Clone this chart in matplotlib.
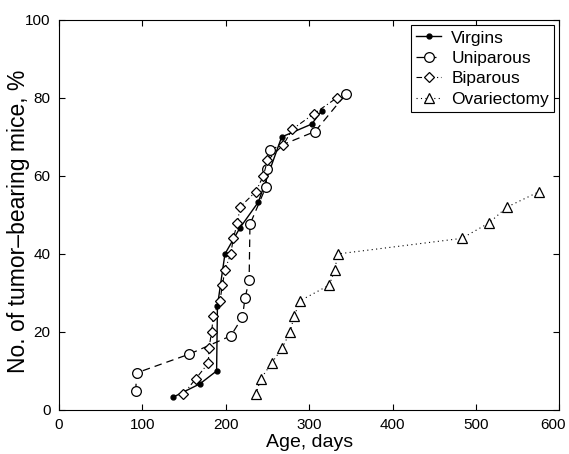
import matplotlib
matplotlib.use("Agg")
import matplotlib.pyplot as plt
import matplotlib.transforms as mtransforms

plt.rcParams['font.family'] = ['Liberation Sans', 'DejaVu Sans']

# ages (days) and cumulative tumour incidence (%)
virgins_age = [137, 169, 189, 190, 199, 217, 239, 267, 303, 315]
virgins_pct = [3.3, 6.7, 10.0, 26.7, 40.0, 46.7, 53.3, 70.0, 73.3, 76.7]

unip_age = [92, 93, 156, 206, 220, 223, 228, 229, 248, 250, 253, 307, 344]
unip_pct = [4.8, 9.5, 14.3, 19.0, 23.8, 28.6, 33.3, 47.6, 57.1, 61.9, 66.7, 71.4, 81.0]

bip_age = [149, 164, 179, 180, 183, 185, 193, 196, 199, 206, 209, 214, 217,
           236, 245, 250, 269, 280, 306, 333]
bip_pct = [4, 8, 12, 16, 20, 24, 28, 32, 36, 40, 44, 48, 52,
           56, 60, 64, 68, 72, 76, 80]

ovx_age = [236, 242, 255, 268, 277, 282, 289, 324, 331, 334, 483, 516, 537, 576]
ovx_pct = [4, 8, 12, 16, 20, 24, 28, 32, 36, 40, 44, 48, 52, 56]

fig = plt.figure(figsize=(5.69, 4.54), dpi=100)
ax = fig.add_axes([0.1037, 0.097, 0.8793, 0.859])

ax.plot(virgins_age, virgins_pct, 'k-', marker='o', ms=3.5, lw=1.0, label='Virgins')
ax.plot(unip_age, unip_pct, color='k', ls=(0, (6, 4)), marker='o', ms=7, mfc='white',
        mew=0.9, lw=0.9, label='Uniparous')
ax.plot(bip_age, bip_pct, color='k', ls=(0, (5, 2.5, 1, 2.5)), marker='D', ms=5.5, mfc='white',
        mew=0.9, lw=0.8, label='Biparous')
ax.plot(ovx_age, ovx_pct, color='k', ls=(0, (1, 3)), marker='^', ms=7, mfc='white',
        mew=0.9, lw=0.8, label='Ovariectomy')

ax.set_xlim(0, 600)
ax.set_ylim(0, 100)
ax.set_xticks(range(0, 601, 100))
ax.set_yticks(range(0, 101, 20))
ax.tick_params(direction='in', top=True, right=True, labelsize=11, length=4, pad=6)
for s in ax.spines.values():
    s.set_linewidth(0.8)

# keep the last x tick label inside the figure
last = ax.get_xticklabels()[-1]
last.set_transform(last.get_transform() + mtransforms.ScaledTranslation(-6 / 100, 0, fig.dpi_scale_trans))

ax.set_xlabel('Age, days', fontsize=14, labelpad=1)
ax.set_ylabel('No. of tumor\u2013bearing mice, %', fontsize=16.5)
ax.yaxis.set_label_coords(-0.058, 0.485)

leg = ax.legend(loc='upper right', fontsize=12.5, handlelength=1.4, handletextpad=0.6,
                borderaxespad=0.3, borderpad=0.3, labelspacing=0.3, fancybox=False,
                framealpha=1, edgecolor='k')
leg.get_frame().set_linewidth(0.8)

fig.savefig('out.png', dpi=100)
